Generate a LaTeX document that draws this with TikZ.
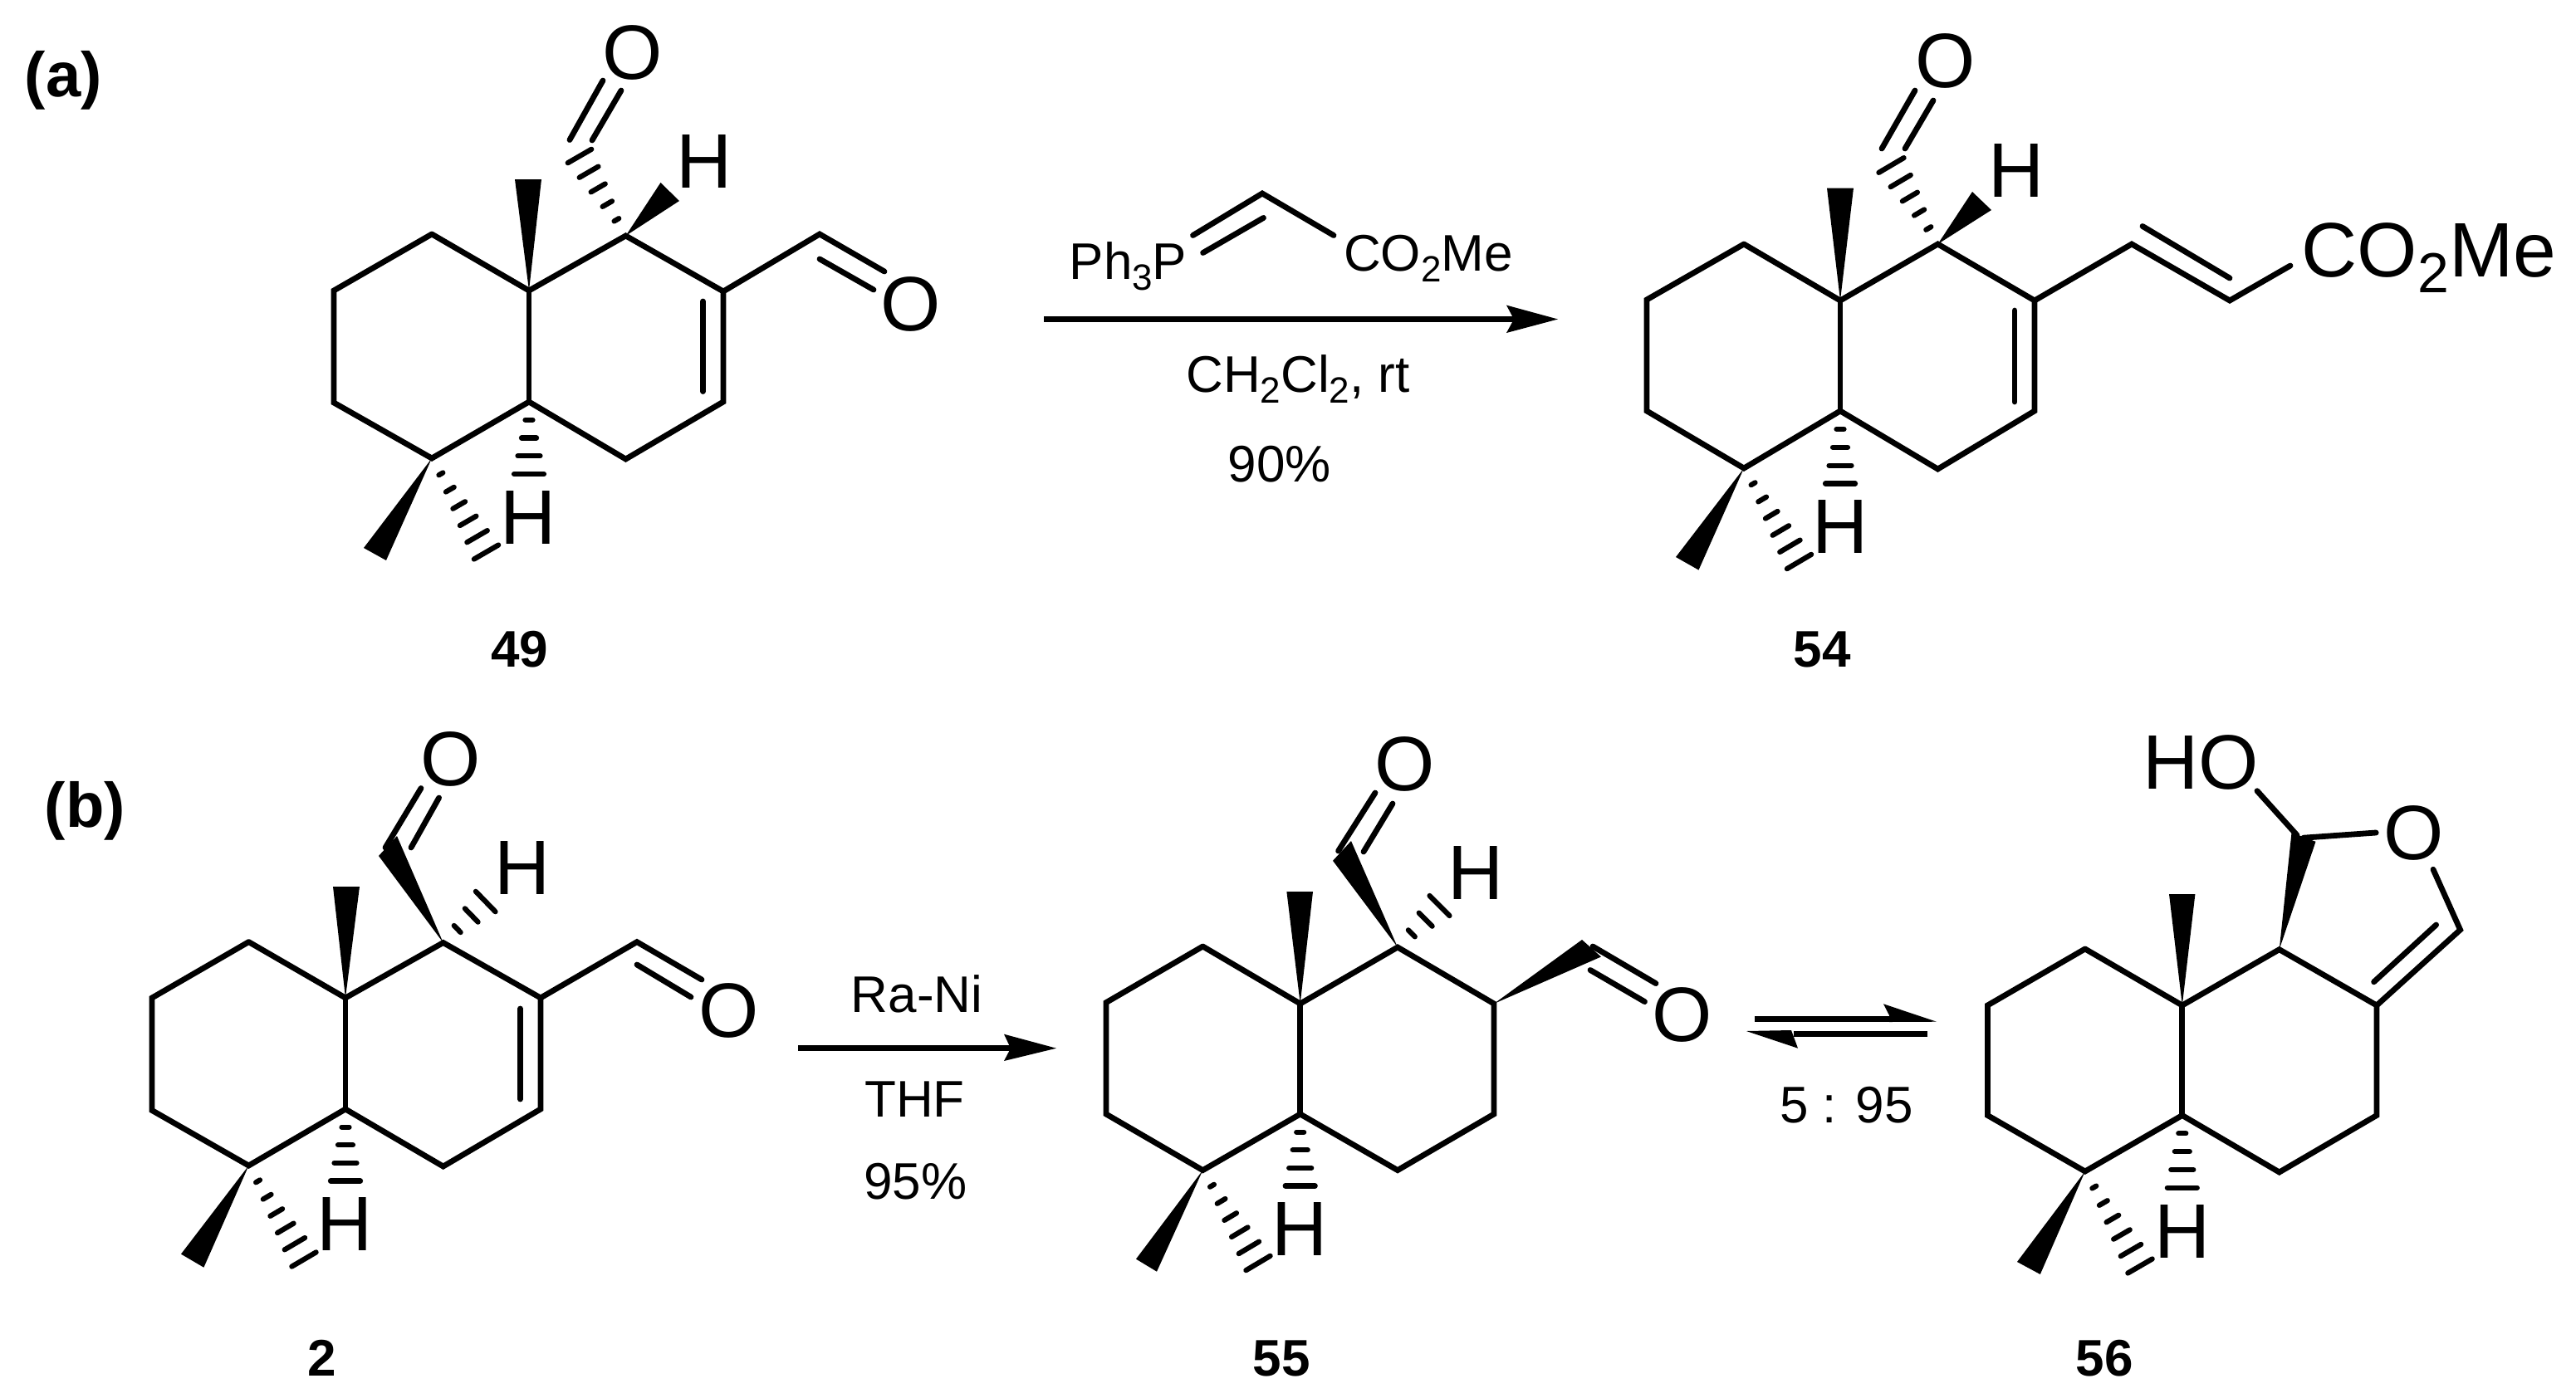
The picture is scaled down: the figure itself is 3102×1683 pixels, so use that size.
\documentclass[tikz,border=0pt]{standalone}
\usepackage{fontspec}
\setmainfont{Liberation Sans}
\usetikzlibrary{calc}
\newcommand{\fa}{\fontsize{46.5}{50}\selectfont}
\newcommand{\fb}{\fontsize{31}{36}\selectfont}
\newcommand{\sba}[1]{\raisebox{-9.5pt}{\fontsize{34}{36}\selectfont #1}}
\newcommand{\sbb}[1]{\raisebox{-6.5pt}{\fontsize{22}{26}\selectfont #1}}
\tikzset{
  x=0.5pt,y=-0.5pt,
  bond/.style={line width=3.4pt,line cap=round,line join=miter,miter limit=10},
  hashln/.style={line width=3.1pt,line cap=round},
  arrowln/.style={line width=3.5pt},
  atomlab/.style={inner sep=0pt,outer sep=0pt,anchor=base,font=\fa},
  reagent/.style={inner sep=0pt,outer sep=0pt,anchor=base,font=\fb},
  cmpd/.style={inner sep=0pt,outer sep=0pt,anchor=base,font=\fb\bfseries},
  panel/.style={inner sep=0pt,outer sep=0pt,anchor=base west,font=\fontsize{38}{42}\selectfont\bfseries},
}
% apex, end, width at end (px), number of lines
\newcommand{\hashb}[4]{\foreach \k in {1,...,#4}{%
  \pgfmathsetmacro\hf{\k/#4}\pgfmathsetmacro\hh{\hf*#3*0.25}%
  \draw[hashln] ($(#1)!\hf!(#2)!\hh pt!90:(#1)$) -- ($(#1)!\hf!(#2)!\hh pt!-90:(#1)$);}}
\newcommand{\wedgeb}[3]{\fill (#1) -- (#2) -- (#3) -- cycle;}
\begin{document}
\begin{tikzpicture}
\useasboundingbox (0,0) rectangle (3102,1683);
%% ---- panel labels
\node[panel] (pa) at (30,116) {(a)};
\node[panel] (pb) at (54,996) {(b)};
%% ---- 49
\coordinate (aTL) at (520,282); \coordinate (aLU) at (402,350); \coordinate (aLD) at (402,485);
\coordinate (aB) at (520,552); \coordinate (aJ1) at (637,350); \coordinate (aJ2) at (637,484);
\coordinate (aC1) at (753.5,284); \coordinate (aC2) at (871,351); \coordinate (aC3) at (871,484);
\coordinate (aC4) at (753.5,553); \coordinate (aCHO) at (987,282); \coordinate (aOe) at (1065,327);
\coordinate (aIa) at (987,312); \coordinate (aIb) at (1052,349);
\coordinate (aRa) at (846.5,363); \coordinate (aRb) at (846.5,471.5);
\coordinate (aMa) at (620,216); \coordinate (aMb) at (652,216);
\coordinate (aHa) at (795.5,220); \coordinate (aHb) at (818,242);
\coordinate (aH1) at (698,188); \coordinate (aH2) at (637,571); \coordinate (aH3) at (585.5,665);
\coordinate (aWa) at (438,660); \coordinate (aWb) at (465,675);
\coordinate (aDa) at (686,168.5); \coordinate (aDb) at (726,97); \coordinate (aDc) at (713,169); \coordinate (aDd) at (748,109);
\draw[bond] (aTL) -- (aLU) -- (aLD) -- (aB) -- (aJ2) -- (aC4) -- (aC3) -- (aC2) -- (aC1) -- (aJ1) -- (aTL);
\draw[bond] (aJ1) -- (aJ2);
\draw[bond] (aC2) -- (aCHO) -- (aOe);
\draw[bond] (aIa) -- (aIb);
\draw[bond] (aRa) -- (aRb);
\draw[bond] (aDa) -- (aDb);
\draw[bond] (aDc) -- (aDd);
\wedgeb{aJ1}{aMa}{aMb}
\wedgeb{aC1}{aHa}{aHb}
\wedgeb{aB}{aWa}{aWb}
\hashb{aC1}{aH1}{33}{5}
\hashb{aJ2}{aH2}{36}{4}
\hashb{aB}{aH3}{34}{6}
\node[atomlab] (aO1) at (762,95.5) {O};
\node[atomlab] (aO2) at (1097,398.5) {O};
\node[atomlab] (aHt) at (848,226.5) {H};
\node[atomlab] (aHd) at (636,655.5) {H};
\node[cmpd] (l49) at (626,803) {49};
%% ---- arrow a + reagents
\coordinate (r1s) at (1257,384.5); \coordinate (r1n) at (1823,384.5); \coordinate (r1t) at (1876,384.5);
\coordinate (r1a) at (1814,367.6); \coordinate (r1b) at (1814,401);
\draw[arrowln] (r1s) -- (r1n);
\fill (r1t) -- (r1a) -- (r1n) -- (r1b) -- cycle;
\coordinate (yA) at (1520,233); \coordinate (yB) at (1436.5,283.5); \coordinate (yC) at (1606,283.5);
\coordinate (yD) at (1521.5,262.4); \coordinate (yE) at (1448.6,304.5);
\draw[bond] (yB) -- (yA) -- (yC);
\draw[bond] (yD) -- (yE);
\node[reagent] (y1) at (1358.5,336) {Ph\sbb{3}P};
\node[reagent] (y2) at (1720,326.7) {CO\sbb{2}Me};
\node[reagent] (y3) at (1563,472) {CH\sbb{2}Cl\sbb{2}, rt};
\node[reagent] (y4) at (1541,580) {90\%};
%% ---- 54
\coordinate (bTL) at (2100,294); \coordinate (bLU) at (1983,361); \coordinate (bLD) at (1983,495);
\coordinate (bB) at (2100,564); \coordinate (bJ1) at (2216,362); \coordinate (bJ2) at (2216,495);
\coordinate (bC1) at (2333.5,294); \coordinate (bC2) at (2450,362); \coordinate (bC3) at (2450,495);
\coordinate (bC4) at (2333.5,565); \coordinate (bV1) at (2567,294); \coordinate (bV2) at (2685,362);
\coordinate (bV3) at (2758,320); \coordinate (bIa) at (2580,272.5); \coordinate (bIb) at (2685,335);
\coordinate (bRa) at (2426,374); \coordinate (bRb) at (2426,484);
\coordinate (bMa) at (2200,226.5); \coordinate (bMb) at (2232,226.5);
\coordinate (bHa) at (2375,231); \coordinate (bHb) at (2398,253);
\coordinate (bH1) at (2277.5,199); \coordinate (bH2) at (2216,582.5); \coordinate (bH3) at (2166.5,676.5);
\coordinate (bWa) at (2018,671); \coordinate (bWb) at (2045.5,686.6);
\coordinate (bDa) at (2266,179); \coordinate (bDb) at (2306,109); \coordinate (bDc) at (2294,179); \coordinate (bDd) at (2328,121);
\draw[bond] (bTL) -- (bLU) -- (bLD) -- (bB) -- (bJ2) -- (bC4) -- (bC3) -- (bC2) -- (bC1) -- (bJ1) -- (bTL);
\draw[bond] (bJ1) -- (bJ2);
\draw[bond] (bC2) -- (bV1) -- (bV2) -- (bV3);
\draw[bond] (bIa) -- (bIb);
\draw[bond] (bRa) -- (bRb);
\draw[bond] (bDa) -- (bDb);
\draw[bond] (bDc) -- (bDd);
\wedgeb{bJ1}{bMa}{bMb}
\wedgeb{bC1}{bHa}{bHb}
\wedgeb{bB}{bWa}{bWb}
\hashb{bC1}{bH1}{35}{5}
\hashb{bJ2}{bH2}{36}{4}
\hashb{bB}{bH3}{34}{6}
\node[atomlab] (bO1) at (2343,105.5) {O};
\node[atomlab] (bHt) at (2427.6,237.5) {H};
\node[atomlab] (bHd) at (2216,666.5) {H};
\node[atomlab] (bCO) at (2925,333) {CO\sba{2}Me};
\node[cmpd] (l54) at (2194,803) {54};
%% ---- 2
\coordinate (cTL) at (299.5,1134.6); \coordinate (cLU) at (183,1202); \coordinate (cLD) at (183,1337.5);
\coordinate (cB) at (299.5,1404); \coordinate (cJ1) at (416,1202); \coordinate (cJ2) at (416,1336);
\coordinate (cC1) at (533.7,1135.5); \coordinate (cC2) at (651,1202); \coordinate (cC3) at (651,1336);
\coordinate (cC4) at (533.7,1405); \coordinate (cCHO) at (767,1134.6); \coordinate (cOe) at (845,1180);
\coordinate (cIa) at (767,1162); \coordinate (cIb) at (832,1201);
\coordinate (cRa) at (626.5,1215); \coordinate (cRb) at (626.5,1324);
\coordinate (cMa) at (401,1068); \coordinate (cMb) at (433,1068);
\coordinate (cTa) at (456,1031); \coordinate (cTb) at (478,1007);
\coordinate (cDa) at (464,1021); \coordinate (cDb) at (507,949.5); \coordinate (cDc) at (495,1021); \coordinate (cDd) at (528.6,961);
\coordinate (cH1) at (584.7,1086); \coordinate (cH2) at (416,1422.5); \coordinate (cH3) at (366,1517);
\coordinate (cWa) at (218,1510.6); \coordinate (cWb) at (245.4,1526.7);
\draw[bond] (cTL) -- (cLU) -- (cLD) -- (cB) -- (cJ2) -- (cC4) -- (cC3) -- (cC2) -- (cC1) -- (cJ1) -- (cTL);
\draw[bond] (cJ1) -- (cJ2);
\draw[bond] (cC2) -- (cCHO) -- (cOe);
\draw[bond] (cIa) -- (cIb);
\draw[bond] (cRa) -- (cRb);
\draw[bond] (cDa) -- (cDb);
\draw[bond] (cDc) -- (cDd);
\wedgeb{cJ1}{cMa}{cMb}
\wedgeb{cC1}{cTa}{cTb}
\wedgeb{cB}{cWa}{cWb}
\hashb{cC1}{cH1}{34}{3}
\hashb{cJ2}{cH2}{36}{4}
\hashb{cB}{cH3}{34}{6}
\node[atomlab] (cO1) at (543,946.5) {O};
\node[atomlab] (cO2) at (878,1249.5) {O};
\node[atomlab] (cHt) at (628.6,1077) {H};
\node[atomlab] (cHd) at (415,1506.5) {H};
\node[cmpd] (l2) at (388,1657) {2};
%% ---- arrow b + reagents
\coordinate (r2s) at (961,1262.7); \coordinate (r2n) at (1217,1262.7); \coordinate (r2t) at (1272,1262.7);
\coordinate (r2a) at (1209,1245.7); \coordinate (r2b) at (1209,1278);
\draw[arrowln] (r2s) -- (r2n);
\fill (r2t) -- (r2a) -- (r2n) -- (r2b) -- cycle;
\node[reagent] (z1) at (1104,1219) {Ra-Ni};
\node[reagent] (z2) at (1101.5,1345) {THF};
\node[reagent] (z3) at (1102.5,1444) {95\%};
%% ---- 55
\coordinate (dTL) at (1448.4,1140); \coordinate (dLU) at (1332,1207.6); \coordinate (dLD) at (1332,1342);
\coordinate (dB) at (1448.4,1409.6); \coordinate (dJ1) at (1565.7,1209); \coordinate (dJ2) at (1565.7,1342);
\coordinate (dC1) at (1683,1141); \coordinate (dC2) at (1799,1209); \coordinate (dC3) at (1799,1342);
\coordinate (dC4) at (1683,1409.6);
\coordinate (dMa) at (1549.4,1074); \coordinate (dMb) at (1581,1074);
\coordinate (dTa) at (1605,1036.8); \coordinate (dTb) at (1627,1013);
\coordinate (dDa) at (1611.6,1025); \coordinate (dDb) at (1656,955); \coordinate (dDc) at (1642,1026); \coordinate (dDd) at (1677,968);
\coordinate (dSa) at (1905,1132); \coordinate (dSb) at (1928,1152.5);
\coordinate (dEa) at (1918,1140); \coordinate (dEb) at (1994,1184.6); \coordinate (dEc) at (1915,1168.5); \coordinate (dEd) at (1980.5,1206.6);
\coordinate (dH1) at (1733.5,1091); \coordinate (dH2) at (1565.7,1428.4); \coordinate (dH3) at (1515,1521.5);
\coordinate (dWa) at (1368,1516.6); \coordinate (dWb) at (1393,1531.7);
\draw[bond] (dTL) -- (dLU) -- (dLD) -- (dB) -- (dJ2) -- (dC4) -- (dC3) -- (dC2) -- (dC1) -- (dJ1) -- (dTL);
\draw[bond] (dJ1) -- (dJ2);
\draw[bond] (dDa) -- (dDb);
\draw[bond] (dDc) -- (dDd);
\draw[bond] (dEa) -- (dEb);
\draw[bond] (dEc) -- (dEd);
\wedgeb{dJ1}{dMa}{dMb}
\wedgeb{dC1}{dTa}{dTb}
\wedgeb{dC2}{dSa}{dSb}
\wedgeb{dB}{dWa}{dWb}
\hashb{dC1}{dH1}{34}{3}
\hashb{dJ2}{dH2}{36}{4}
\hashb{dB}{dH3}{34}{6}
\node[atomlab] (dO1) at (1692,952.5) {O};
\node[atomlab] (dO2) at (2026,1254.5) {O};
\node[atomlab] (dHt) at (1777.4,1083) {H};
\node[atomlab] (dHd) at (1564.7,1512.5) {H};
\node[cmpd] (l55) at (1543,1657) {55};
%% ---- equilibrium
\coordinate (e1s) at (2113,1227); \coordinate (e1n) at (2275,1227); \coordinate (e1t) at (2332,1230.7);
\coordinate (e1a) at (2268,1209.3); \coordinate (e1i) at (2275,1223); \coordinate (e1l) at (2275,1231);
\coordinate (e2s) at (2321,1245); \coordinate (e2n) at (2160,1245); \coordinate (e2t) at (2103,1242);
\coordinate (e2a) at (2165,1262.7); \coordinate (e2i) at (2160,1249); \coordinate (e2l) at (2157,1241);
\draw[arrowln] (e1s) -- (e1n);
\fill (e1t) -- (e1a) -- (e1i) -- (e1l) -- cycle;
\draw[arrowln] (e2s) -- (e2n);
\fill (e2t) -- (e2a) -- (e2i) -- (e2l) -- cycle;
\node[reagent] (k1) at (2223.5,1352) {5 : 95};
%% ---- 56
\coordinate (fTL) at (2510.8,1143); \coordinate (fLU) at (2393.4,1211); \coordinate (fLD) at (2393.4,1343.5);
\coordinate (fB) at (2510.8,1411); \coordinate (fJ1) at (2627.8,1211); \coordinate (fJ2) at (2627.8,1343.5);
\coordinate (fC1) at (2744.7,1143.7); \coordinate (fC2) at (2862,1211); \coordinate (fC3) at (2862,1343.5);
\coordinate (fC4) at (2744.7,1412); \coordinate (fFu) at (2962.6,1120);
\coordinate (fIa) at (2933.6,1114); \coordinate (fIb) at (2858.6,1182.8);
\coordinate (fOe) at (2930,1047.3); \coordinate (fTop) at (2773.8,1009.2); \coordinate (fOb) at (2861.2,1003);
\coordinate (fOHa) at (2766,1006); \coordinate (fOHb) at (2718,952.7);
\coordinate (fTa) at (2759.5,1003); \coordinate (fTb) at (2788.5,1013.8);
\coordinate (fMa) at (2612,1077); \coordinate (fMb) at (2643.4,1077);
\coordinate (fH2) at (2627.8,1430.7); \coordinate (fH3) at (2577,1525);
\coordinate (fWa) at (2429,1520); \coordinate (fWb) at (2456.8,1535);
\draw[bond] (fTL) -- (fLU) -- (fLD) -- (fB) -- (fJ2) -- (fC4) -- (fC3) -- (fC2) -- (fC1) -- (fJ1) -- (fTL);
\draw[bond] (fJ1) -- (fJ2);
\draw[bond] (fC2) -- (fFu) -- (fOe);
\draw[bond] (fIa) -- (fIb);
\draw[bond] (fTop) -- (fOb);
\draw[bond] (fOHa) -- (fOHb);
\wedgeb{fJ1}{fMa}{fMb}
\wedgeb{fC1}{fTa}{fTb}
\wedgeb{fB}{fWa}{fWb}
\hashb{fJ2}{fH2}{36}{4}
\hashb{fB}{fH3}{34}{6}
\node[atomlab] (fOH) at (2650,950.4) {HO};
\node[atomlab] (fO1) at (2906.8,1035) {O};
\node[atomlab] (fHd) at (2627.8,1515.5) {H};
\node[cmpd] (l56) at (2534,1657) {56};
\end{tikzpicture}
\end{document}
